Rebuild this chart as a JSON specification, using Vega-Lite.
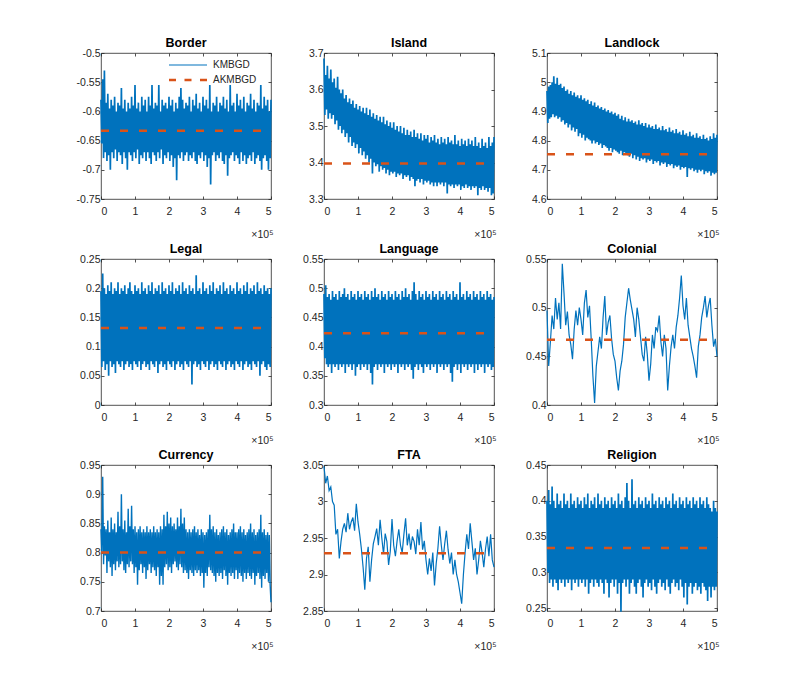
{
  "$schema": "https://vega.github.io/schema/vega-lite/v6.json",
  "background": "white",
  "padding": {"left": 75, "top": 36, "right": 10, "bottom": 10},
  "bounds": "flush",
  "columns": 3,
  "spacing": {"row": 60, "column": 53},
  "resolve": {"scale": {"color": "independent"}, "legend": {"color": "independent"}},
  "datasets": {
    "border": [
      {"x":0,"y":-0.58},{"x":2.5,"y":-0.655},{"x":5,"y":-0.545},{"x":7.5,"y":-0.68},{"x":10,"y":-0.53},{"x":12.5,"y":-0.67},{"x":15,"y":-0.585},{"x":17.5,"y":-0.685},{"x":20,"y":-0.57},{"x":22.5,"y":-0.675},
      {"x":25,"y":-0.595},{"x":27.5,"y":-0.70},{"x":30,"y":-0.58},{"x":32.5,"y":-0.67},{"x":35,"y":-0.59},{"x":37.5,"y":-0.68},{"x":40,"y":-0.575},{"x":42.5,"y":-0.665},{"x":45,"y":-0.60},{"x":47.5,"y":-0.685},
      {"x":50,"y":-0.585},{"x":52.5,"y":-0.67},{"x":55,"y":-0.59},{"x":57.5,"y":-0.675},{"x":60,"y":-0.56},{"x":62.5,"y":-0.69},{"x":65,"y":-0.595},{"x":67.5,"y":-0.67},{"x":70,"y":-0.58},{"x":72.5,"y":-0.68},
      {"x":75,"y":-0.60},{"x":77.5,"y":-0.70},{"x":80,"y":-0.585},{"x":82.5,"y":-0.67},{"x":85,"y":-0.595},{"x":87.5,"y":-0.675},{"x":90,"y":-0.575},{"x":92.5,"y":-0.685},{"x":95,"y":-0.59},{"x":97.5,"y":-0.67},
      {"x":100,"y":-0.555},{"x":102.5,"y":-0.68},{"x":105,"y":-0.595},{"x":107.5,"y":-0.665},{"x":110,"y":-0.585},{"x":112.5,"y":-0.69},{"x":115,"y":-0.60},{"x":117.5,"y":-0.675},{"x":120,"y":-0.575},{"x":122.5,"y":-0.68},
      {"x":125,"y":-0.59},{"x":127.5,"y":-0.67},{"x":130,"y":-0.58},{"x":132.5,"y":-0.685},{"x":135,"y":-0.60},{"x":137.5,"y":-0.67},{"x":140,"y":-0.575},{"x":142.5,"y":-0.68},{"x":145,"y":-0.59},{"x":147.5,"y":-0.69},
      {"x":150,"y":-0.555},{"x":152.5,"y":-0.67},{"x":155,"y":-0.595},{"x":157.5,"y":-0.675},{"x":160,"y":-0.585},{"x":162.5,"y":-0.685},{"x":165,"y":-0.59},{"x":167.5,"y":-0.67},{"x":170,"y":-0.555},{"x":172.5,"y":-0.68},
      {"x":175,"y":-0.60},{"x":177.5,"y":-0.665},{"x":180,"y":-0.58},{"x":182.5,"y":-0.69},{"x":185,"y":-0.59},{"x":187.5,"y":-0.675},{"x":190,"y":-0.585},{"x":192.5,"y":-0.68},{"x":195,"y":-0.595},{"x":197.5,"y":-0.67},
      {"x":200,"y":-0.575},{"x":202.5,"y":-0.685},{"x":205,"y":-0.59},{"x":207.5,"y":-0.675},{"x":210,"y":-0.58},{"x":212.5,"y":-0.695},{"x":215,"y":-0.60},{"x":217.5,"y":-0.68},{"x":220,"y":-0.585},{"x":222.5,"y":-0.718},
      {"x":225,"y":-0.595},{"x":227.5,"y":-0.675},{"x":230,"y":-0.575},{"x":232.5,"y":-0.68},{"x":235,"y":-0.56},{"x":237.5,"y":-0.67},{"x":240,"y":-0.58},{"x":242.5,"y":-0.685},{"x":245,"y":-0.595},{"x":247.5,"y":-0.675},
      {"x":250,"y":-0.585},{"x":252.5,"y":-0.67},{"x":255,"y":-0.59},{"x":257.5,"y":-0.685},{"x":260,"y":-0.575},{"x":262.5,"y":-0.675},{"x":265,"y":-0.60},{"x":267.5,"y":-0.68},{"x":270,"y":-0.58},{"x":272.5,"y":-0.67},
      {"x":275,"y":-0.59},{"x":277.5,"y":-0.685},{"x":280,"y":-0.57},{"x":282.5,"y":-0.69},{"x":285,"y":-0.595},{"x":287.5,"y":-0.675},{"x":290,"y":-0.585},{"x":292.5,"y":-0.68},{"x":295,"y":-0.60},{"x":297.5,"y":-0.67},
      {"x":300,"y":-0.575},{"x":302.5,"y":-0.685},{"x":305,"y":-0.59},{"x":307.5,"y":-0.675},{"x":310,"y":-0.58},{"x":312.5,"y":-0.695},{"x":315,"y":-0.595},{"x":317.5,"y":-0.68},{"x":320,"y":-0.555},{"x":322.5,"y":-0.725},
      {"x":325,"y":-0.60},{"x":327.5,"y":-0.675},{"x":330,"y":-0.585},{"x":332.5,"y":-0.67},{"x":335,"y":-0.59},{"x":337.5,"y":-0.685},{"x":340,"y":-0.575},{"x":342.5,"y":-0.675},{"x":345,"y":-0.60},{"x":347.5,"y":-0.68},
      {"x":350,"y":-0.585},{"x":352.5,"y":-0.67},{"x":355,"y":-0.59},{"x":357.5,"y":-0.685},{"x":360,"y":-0.575},{"x":362.5,"y":-0.69},{"x":365,"y":-0.595},{"x":367.5,"y":-0.675},{"x":370,"y":-0.58},{"x":372.5,"y":-0.71},
      {"x":375,"y":-0.60},{"x":377.5,"y":-0.68},{"x":380,"y":-0.555},{"x":382.5,"y":-0.675},{"x":385,"y":-0.59},{"x":387.5,"y":-0.67},{"x":390,"y":-0.585},{"x":392.5,"y":-0.685},{"x":395,"y":-0.60},{"x":397.5,"y":-0.675},
      {"x":400,"y":-0.57},{"x":402.5,"y":-0.68},{"x":405,"y":-0.59},{"x":407.5,"y":-0.69},{"x":410,"y":-0.58},{"x":412.5,"y":-0.67},{"x":415,"y":-0.595},{"x":417.5,"y":-0.685},{"x":420,"y":-0.575},{"x":422.5,"y":-0.675},
      {"x":425,"y":-0.60},{"x":427.5,"y":-0.69},{"x":430,"y":-0.585},{"x":432.5,"y":-0.68},{"x":435,"y":-0.59},{"x":437.5,"y":-0.675},{"x":440,"y":-0.57},{"x":442.5,"y":-0.685},{"x":445,"y":-0.595},{"x":447.5,"y":-0.67},
      {"x":450,"y":-0.58},{"x":452.5,"y":-0.69},{"x":455,"y":-0.60},{"x":457.5,"y":-0.68},{"x":460,"y":-0.585},{"x":462.5,"y":-0.675},{"x":465,"y":-0.59},{"x":467.5,"y":-0.685},{"x":470,"y":-0.555},{"x":472.5,"y":-0.70},
      {"x":475,"y":-0.595},{"x":477.5,"y":-0.68},{"x":480,"y":-0.575},{"x":482.5,"y":-0.675},{"x":485,"y":-0.59},{"x":487.5,"y":-0.685},{"x":490,"y":-0.58},{"x":492.5,"y":-0.70},{"x":495,"y":-0.60},{"x":497.5,"y":-0.68},
      {"x":500,"y":-0.58}
    ],
    "island": [
      {"x":0,"y":3.685},{"x":2.5,"y":3.53},{"x":5,"y":3.64},{"x":7.5,"y":3.545},{"x":10,"y":3.665},{"x":12.5,"y":3.52},{"x":15,"y":3.63},{"x":17.5,"y":3.535},{"x":20,"y":3.655},{"x":22.5,"y":3.52},
      {"x":25,"y":3.62},{"x":27.5,"y":3.53},{"x":30,"y":3.63},{"x":32.5,"y":3.505},{"x":35,"y":3.605},{"x":37.5,"y":3.515},{"x":40,"y":3.635},{"x":42.5,"y":3.49},{"x":45,"y":3.60},{"x":47.5,"y":3.50},
      {"x":50,"y":3.59},{"x":52.5,"y":3.48},{"x":55,"y":3.60},{"x":57.5,"y":3.49},{"x":60,"y":3.575},{"x":62.5,"y":3.47},{"x":65,"y":3.585},{"x":67.5,"y":3.48},{"x":70,"y":3.565},{"x":72.5,"y":3.455},
      {"x":75,"y":3.575},{"x":77.5,"y":3.47},{"x":80,"y":3.56},{"x":82.5,"y":3.445},{"x":85,"y":3.57},{"x":87.5,"y":3.455},{"x":90,"y":3.55},{"x":92.5,"y":3.44},{"x":95,"y":3.56},{"x":97.5,"y":3.45},
      {"x":100,"y":3.545},{"x":102.5,"y":3.425},{"x":105,"y":3.555},{"x":107.5,"y":3.44},{"x":110,"y":3.54},{"x":112.5,"y":3.42},{"x":115,"y":3.55},{"x":117.5,"y":3.43},{"x":120,"y":3.535},{"x":122.5,"y":3.41},
      {"x":125,"y":3.55},{"x":127.5,"y":3.42},{"x":130,"y":3.53},{"x":132.5,"y":3.40},{"x":135,"y":3.545},{"x":137.5,"y":3.41},{"x":140,"y":3.525},{"x":142.5,"y":3.37},{"x":145,"y":3.535},{"x":147.5,"y":3.40},
      {"x":150,"y":3.52},{"x":152.5,"y":3.39},{"x":155,"y":3.53},{"x":157.5,"y":3.395},{"x":160,"y":3.515},{"x":162.5,"y":3.375},{"x":165,"y":3.525},{"x":167.5,"y":3.39},{"x":170,"y":3.51},{"x":172.5,"y":3.38},
      {"x":175,"y":3.525},{"x":177.5,"y":3.385},{"x":180,"y":3.505},{"x":182.5,"y":3.37},{"x":185,"y":3.515},{"x":187.5,"y":3.38},{"x":190,"y":3.50},{"x":192.5,"y":3.365},{"x":195,"y":3.51},{"x":197.5,"y":3.375},
      {"x":200,"y":3.495},{"x":202.5,"y":3.37},{"x":205,"y":3.51},{"x":207.5,"y":3.375},{"x":210,"y":3.49},{"x":212.5,"y":3.36},{"x":215,"y":3.50},{"x":217.5,"y":3.37},{"x":220,"y":3.485},{"x":222.5,"y":3.365},
      {"x":225,"y":3.50},{"x":227.5,"y":3.37},{"x":230,"y":3.48},{"x":232.5,"y":3.355},{"x":235,"y":3.495},{"x":237.5,"y":3.365},{"x":240,"y":3.475},{"x":242.5,"y":3.36},{"x":245,"y":3.49},{"x":247.5,"y":3.365},
      {"x":250,"y":3.475},{"x":252.5,"y":3.35},{"x":255,"y":3.485},{"x":257.5,"y":3.36},{"x":260,"y":3.47},{"x":262.5,"y":3.355},{"x":265,"y":3.49},{"x":267.5,"y":3.335},{"x":270,"y":3.47},{"x":272.5,"y":3.35},
      {"x":275,"y":3.48},{"x":277.5,"y":3.355},{"x":280,"y":3.465},{"x":282.5,"y":3.345},{"x":285,"y":3.48},{"x":287.5,"y":3.355},{"x":290,"y":3.46},{"x":292.5,"y":3.34},{"x":295,"y":3.475},{"x":297.5,"y":3.35},
      {"x":300,"y":3.465},{"x":302.5,"y":3.345},{"x":305,"y":3.475},{"x":307.5,"y":3.35},{"x":310,"y":3.455},{"x":312.5,"y":3.34},{"x":315,"y":3.47},{"x":317.5,"y":3.345},{"x":320,"y":3.46},{"x":322.5,"y":3.335},
      {"x":325,"y":3.475},{"x":327.5,"y":3.345},{"x":330,"y":3.455},{"x":332.5,"y":3.335},{"x":335,"y":3.465},{"x":337.5,"y":3.345},{"x":340,"y":3.45},{"x":342.5,"y":3.34},{"x":345,"y":3.47},{"x":347.5,"y":3.345},
      {"x":350,"y":3.455},{"x":352.5,"y":3.335},{"x":355,"y":3.465},{"x":357.5,"y":3.345},{"x":360,"y":3.45},{"x":362.5,"y":3.315},{"x":365,"y":3.47},{"x":367.5,"y":3.34},{"x":370,"y":3.455},{"x":372.5,"y":3.335},
      {"x":375,"y":3.46},{"x":377.5,"y":3.34},{"x":380,"y":3.45},{"x":382.5,"y":3.33},{"x":385,"y":3.475},{"x":387.5,"y":3.34},{"x":390,"y":3.45},{"x":392.5,"y":3.335},{"x":395,"y":3.46},{"x":397.5,"y":3.34},
      {"x":400,"y":3.445},{"x":402.5,"y":3.325},{"x":405,"y":3.465},{"x":407.5,"y":3.335},{"x":410,"y":3.45},{"x":412.5,"y":3.33},{"x":415,"y":3.46},{"x":417.5,"y":3.34},{"x":420,"y":3.445},{"x":422.5,"y":3.33},
      {"x":425,"y":3.465},{"x":427.5,"y":3.335},{"x":430,"y":3.45},{"x":432.5,"y":3.325},{"x":435,"y":3.46},{"x":437.5,"y":3.335},{"x":440,"y":3.445},{"x":442.5,"y":3.33},{"x":445,"y":3.47},{"x":447.5,"y":3.335},
      {"x":450,"y":3.445},{"x":452.5,"y":3.31},{"x":455,"y":3.455},{"x":457.5,"y":3.33},{"x":460,"y":3.44},{"x":462.5,"y":3.325},{"x":465,"y":3.465},{"x":467.5,"y":3.335},{"x":470,"y":3.445},{"x":472.5,"y":3.325},
      {"x":475,"y":3.455},{"x":477.5,"y":3.33},{"x":480,"y":3.44},{"x":482.5,"y":3.32},{"x":485,"y":3.47},{"x":487.5,"y":3.33},{"x":490,"y":3.445},{"x":492.5,"y":3.31},{"x":495,"y":3.455},{"x":497.5,"y":3.315},
      {"x":500,"y":3.47}
    ],
    "landlock": [
      {"x":0,"y":4.97},{"x":2.5,"y":4.86},{"x":5,"y":4.985},{"x":7.5,"y":4.875},{"x":10,"y":4.99},{"x":12.5,"y":4.88},{"x":15,"y":5.0},{"x":17.5,"y":4.89},{"x":20,"y":5.02},{"x":22.5,"y":4.88},
      {"x":25,"y":4.995},{"x":27.5,"y":4.885},{"x":30,"y":5.015},{"x":32.5,"y":4.875},{"x":35,"y":4.99},{"x":37.5,"y":4.88},{"x":40,"y":4.995},{"x":42.5,"y":4.865},{"x":45,"y":4.98},{"x":47.5,"y":4.87},
      {"x":50,"y":4.985},{"x":52.5,"y":4.855},{"x":55,"y":4.97},{"x":57.5,"y":4.86},{"x":60,"y":4.975},{"x":62.5,"y":4.845},{"x":65,"y":4.96},{"x":67.5,"y":4.855},{"x":70,"y":4.97},{"x":72.5,"y":4.835},
      {"x":75,"y":4.955},{"x":77.5,"y":4.845},{"x":80,"y":4.965},{"x":82.5,"y":4.83},{"x":85,"y":4.95},{"x":87.5,"y":4.84},{"x":90,"y":4.955},{"x":92.5,"y":4.815},{"x":95,"y":4.945},{"x":97.5,"y":4.825},
      {"x":100,"y":4.955},{"x":102.5,"y":4.81},{"x":105,"y":4.94},{"x":107.5,"y":4.82},{"x":110,"y":4.945},{"x":112.5,"y":4.80},{"x":115,"y":4.935},{"x":117.5,"y":4.81},{"x":120,"y":4.94},{"x":122.5,"y":4.805},
      {"x":125,"y":4.925},{"x":127.5,"y":4.80},{"x":130,"y":4.935},{"x":132.5,"y":4.79},{"x":135,"y":4.92},{"x":137.5,"y":4.80},{"x":140,"y":4.93},{"x":142.5,"y":4.79},{"x":145,"y":4.915},{"x":147.5,"y":4.795},
      {"x":150,"y":4.92},{"x":152.5,"y":4.785},{"x":155,"y":4.91},{"x":157.5,"y":4.79},{"x":160,"y":4.915},{"x":162.5,"y":4.775},{"x":165,"y":4.905},{"x":167.5,"y":4.785},{"x":170,"y":4.91},{"x":172.5,"y":4.78},
      {"x":175,"y":4.90},{"x":177.5,"y":4.775},{"x":180,"y":4.905},{"x":182.5,"y":4.765},{"x":185,"y":4.895},{"x":187.5,"y":4.775},{"x":190,"y":4.90},{"x":192.5,"y":4.76},{"x":195,"y":4.89},{"x":197.5,"y":4.77},
      {"x":200,"y":4.895},{"x":202.5,"y":4.765},{"x":205,"y":4.885},{"x":207.5,"y":4.76},{"x":210,"y":4.89},{"x":212.5,"y":4.755},{"x":215,"y":4.875},{"x":217.5,"y":4.765},{"x":220,"y":4.885},{"x":222.5,"y":4.75},
      {"x":225,"y":4.87},{"x":227.5,"y":4.76},{"x":230,"y":4.88},{"x":232.5,"y":4.755},{"x":235,"y":4.865},{"x":237.5,"y":4.75},{"x":240,"y":4.875},{"x":242.5,"y":4.745},{"x":245,"y":4.865},{"x":247.5,"y":4.755},
      {"x":250,"y":4.87},{"x":252.5,"y":4.74},{"x":255,"y":4.86},{"x":257.5,"y":4.75},{"x":260,"y":4.865},{"x":262.5,"y":4.735},{"x":265,"y":4.855},{"x":267.5,"y":4.745},{"x":270,"y":4.87},{"x":272.5,"y":4.73},
      {"x":275,"y":4.855},{"x":277.5,"y":4.74},{"x":280,"y":4.86},{"x":282.5,"y":4.735},{"x":285,"y":4.85},{"x":287.5,"y":4.74},{"x":290,"y":4.86},{"x":292.5,"y":4.725},{"x":295,"y":4.845},{"x":297.5,"y":4.735},
      {"x":300,"y":4.855},{"x":302.5,"y":4.73},{"x":305,"y":4.845},{"x":307.5,"y":4.735},{"x":310,"y":4.85},{"x":312.5,"y":4.72},{"x":315,"y":4.84},{"x":317.5,"y":4.73},{"x":320,"y":4.855},{"x":322.5,"y":4.725},
      {"x":325,"y":4.84},{"x":327.5,"y":4.73},{"x":330,"y":4.845},{"x":332.5,"y":4.715},{"x":335,"y":4.835},{"x":337.5,"y":4.725},{"x":340,"y":4.85},{"x":342.5,"y":4.72},{"x":345,"y":4.835},{"x":347.5,"y":4.725},
      {"x":350,"y":4.84},{"x":352.5,"y":4.71},{"x":355,"y":4.83},{"x":357.5,"y":4.72},{"x":360,"y":4.845},{"x":362.5,"y":4.715},{"x":365,"y":4.83},{"x":367.5,"y":4.72},{"x":370,"y":4.835},{"x":372.5,"y":4.705},
      {"x":375,"y":4.825},{"x":377.5,"y":4.715},{"x":380,"y":4.84},{"x":382.5,"y":4.71},{"x":385,"y":4.825},{"x":387.5,"y":4.715},{"x":390,"y":4.83},{"x":392.5,"y":4.70},{"x":395,"y":4.82},{"x":397.5,"y":4.71},
      {"x":400,"y":4.835},{"x":402.5,"y":4.705},{"x":405,"y":4.82},{"x":407.5,"y":4.71},{"x":410,"y":4.825},{"x":412.5,"y":4.675},{"x":415,"y":4.815},{"x":417.5,"y":4.705},{"x":420,"y":4.83},{"x":422.5,"y":4.70},
      {"x":425,"y":4.815},{"x":427.5,"y":4.705},{"x":430,"y":4.82},{"x":432.5,"y":4.695},{"x":435,"y":4.81},{"x":437.5,"y":4.70},{"x":440,"y":4.825},{"x":442.5,"y":4.69},{"x":445,"y":4.81},{"x":447.5,"y":4.70},
      {"x":450,"y":4.815},{"x":452.5,"y":4.695},{"x":455,"y":4.805},{"x":457.5,"y":4.70},{"x":460,"y":4.82},{"x":462.5,"y":4.685},{"x":465,"y":4.805},{"x":467.5,"y":4.695},{"x":470,"y":4.81},{"x":472.5,"y":4.69},
      {"x":475,"y":4.80},{"x":477.5,"y":4.695},{"x":480,"y":4.815},{"x":482.5,"y":4.68},{"x":485,"y":4.805},{"x":487.5,"y":4.69},{"x":490,"y":4.825},{"x":492.5,"y":4.685},{"x":495,"y":4.81},{"x":497.5,"y":4.69},
      {"x":500,"y":4.82}
    ],
    "legal": [
      {"x":0,"y":0.195},{"x":2.5,"y":0.065},{"x":5,"y":0.225},{"x":7.5,"y":0.075},{"x":10,"y":0.20},{"x":12.5,"y":0.06},{"x":15,"y":0.19},{"x":17.5,"y":0.07},{"x":20,"y":0.205},{"x":22.5,"y":0.05},
      {"x":25,"y":0.195},{"x":27.5,"y":0.075},{"x":30,"y":0.21},{"x":32.5,"y":0.065},{"x":35,"y":0.19},{"x":37.5,"y":0.07},{"x":40,"y":0.20},{"x":42.5,"y":0.055},{"x":45,"y":0.195},{"x":47.5,"y":0.075},
      {"x":50,"y":0.21},{"x":52.5,"y":0.07},{"x":55,"y":0.19},{"x":57.5,"y":0.065},{"x":60,"y":0.20},{"x":62.5,"y":0.075},{"x":65,"y":0.195},{"x":67.5,"y":0.06},{"x":70,"y":0.205},{"x":72.5,"y":0.07},
      {"x":75,"y":0.19},{"x":77.5,"y":0.075},{"x":80,"y":0.20},{"x":82.5,"y":0.065},{"x":85,"y":0.21},{"x":87.5,"y":0.07},{"x":90,"y":0.195},{"x":92.5,"y":0.06},{"x":95,"y":0.19},{"x":97.5,"y":0.075},
      {"x":100,"y":0.205},{"x":102.5,"y":0.07},{"x":105,"y":0.195},{"x":107.5,"y":0.065},{"x":110,"y":0.20},{"x":112.5,"y":0.075},{"x":115,"y":0.19},{"x":117.5,"y":0.06},{"x":120,"y":0.21},{"x":122.5,"y":0.07},
      {"x":125,"y":0.195},{"x":127.5,"y":0.075},{"x":130,"y":0.20},{"x":132.5,"y":0.065},{"x":135,"y":0.19},{"x":137.5,"y":0.07},{"x":140,"y":0.205},{"x":142.5,"y":0.06},{"x":145,"y":0.195},{"x":147.5,"y":0.075},
      {"x":150,"y":0.21},{"x":152.5,"y":0.07},{"x":155,"y":0.19},{"x":157.5,"y":0.065},{"x":160,"y":0.20},{"x":162.5,"y":0.075},{"x":165,"y":0.195},{"x":167.5,"y":0.055},{"x":170,"y":0.205},{"x":172.5,"y":0.07},
      {"x":175,"y":0.19},{"x":177.5,"y":0.075},{"x":180,"y":0.21},{"x":182.5,"y":0.065},{"x":185,"y":0.195},{"x":187.5,"y":0.07},{"x":190,"y":0.20},{"x":192.5,"y":0.06},{"x":195,"y":0.19},{"x":197.5,"y":0.075},
      {"x":200,"y":0.205},{"x":202.5,"y":0.07},{"x":205,"y":0.195},{"x":207.5,"y":0.065},{"x":210,"y":0.21},{"x":212.5,"y":0.075},{"x":215,"y":0.19},{"x":217.5,"y":0.06},{"x":220,"y":0.20},{"x":222.5,"y":0.07},
      {"x":225,"y":0.195},{"x":227.5,"y":0.075},{"x":230,"y":0.205},{"x":232.5,"y":0.065},{"x":235,"y":0.19},{"x":237.5,"y":0.07},{"x":240,"y":0.21},{"x":242.5,"y":0.06},{"x":245,"y":0.195},{"x":247.5,"y":0.075},
      {"x":250,"y":0.20},{"x":252.5,"y":0.07},{"x":255,"y":0.19},{"x":257.5,"y":0.065},{"x":260,"y":0.205},{"x":262.5,"y":0.075},{"x":265,"y":0.195},{"x":267.5,"y":0.035},{"x":270,"y":0.20},{"x":272.5,"y":0.07},
      {"x":275,"y":0.19},{"x":277.5,"y":0.075},{"x":280,"y":0.222},{"x":282.5,"y":0.065},{"x":285,"y":0.195},{"x":287.5,"y":0.07},{"x":290,"y":0.20},{"x":292.5,"y":0.06},{"x":295,"y":0.19},{"x":297.5,"y":0.075},
      {"x":300,"y":0.21},{"x":302.5,"y":0.07},{"x":305,"y":0.195},{"x":307.5,"y":0.065},{"x":310,"y":0.20},{"x":312.5,"y":0.075},{"x":315,"y":0.19},{"x":317.5,"y":0.06},{"x":320,"y":0.205},{"x":322.5,"y":0.07},
      {"x":325,"y":0.195},{"x":327.5,"y":0.075},{"x":330,"y":0.21},{"x":332.5,"y":0.065},{"x":335,"y":0.19},{"x":337.5,"y":0.07},{"x":340,"y":0.20},{"x":342.5,"y":0.06},{"x":345,"y":0.195},{"x":347.5,"y":0.075},
      {"x":350,"y":0.205},{"x":352.5,"y":0.07},{"x":355,"y":0.19},{"x":357.5,"y":0.065},{"x":360,"y":0.21},{"x":362.5,"y":0.075},{"x":365,"y":0.195},{"x":367.5,"y":0.06},{"x":370,"y":0.20},{"x":372.5,"y":0.07},
      {"x":375,"y":0.19},{"x":377.5,"y":0.075},{"x":380,"y":0.205},{"x":382.5,"y":0.065},{"x":385,"y":0.195},{"x":387.5,"y":0.07},{"x":390,"y":0.20},{"x":392.5,"y":0.06},{"x":395,"y":0.19},{"x":397.5,"y":0.075},
      {"x":400,"y":0.21},{"x":402.5,"y":0.07},{"x":405,"y":0.195},{"x":407.5,"y":0.065},{"x":410,"y":0.20},{"x":412.5,"y":0.075},{"x":415,"y":0.19},{"x":417.5,"y":0.06},{"x":420,"y":0.205},{"x":422.5,"y":0.07},
      {"x":425,"y":0.195},{"x":427.5,"y":0.075},{"x":430,"y":0.21},{"x":432.5,"y":0.065},{"x":435,"y":0.19},{"x":437.5,"y":0.07},{"x":440,"y":0.20},{"x":442.5,"y":0.06},{"x":445,"y":0.195},{"x":447.5,"y":0.075},
      {"x":450,"y":0.205},{"x":452.5,"y":0.07},{"x":455,"y":0.19},{"x":457.5,"y":0.065},{"x":460,"y":0.21},{"x":462.5,"y":0.075},{"x":465,"y":0.195},{"x":467.5,"y":0.05},{"x":470,"y":0.20},{"x":472.5,"y":0.07},
      {"x":475,"y":0.19},{"x":477.5,"y":0.075},{"x":480,"y":0.205},{"x":482.5,"y":0.065},{"x":485,"y":0.195},{"x":487.5,"y":0.06},{"x":490,"y":0.20},{"x":492.5,"y":0.07},{"x":495,"y":0.19},{"x":497.5,"y":0.065},
      {"x":500,"y":0.20}
    ],
    "language": [
      {"x":0,"y":0.49},{"x":2.5,"y":0.38},{"x":5,"y":0.505},{"x":7.5,"y":0.37},{"x":10,"y":0.485},{"x":12.5,"y":0.365},{"x":15,"y":0.49},{"x":17.5,"y":0.37},{"x":20,"y":0.48},{"x":22.5,"y":0.355},
      {"x":25,"y":0.495},{"x":27.5,"y":0.37},{"x":30,"y":0.485},{"x":32.5,"y":0.365},{"x":35,"y":0.49},{"x":37.5,"y":0.37},{"x":40,"y":0.48},{"x":42.5,"y":0.36},{"x":45,"y":0.495},{"x":47.5,"y":0.37},
      {"x":50,"y":0.485},{"x":52.5,"y":0.365},{"x":55,"y":0.49},{"x":57.5,"y":0.37},{"x":60,"y":0.50},{"x":62.5,"y":0.355},{"x":65,"y":0.485},{"x":67.5,"y":0.37},{"x":70,"y":0.49},{"x":72.5,"y":0.365},
      {"x":75,"y":0.48},{"x":77.5,"y":0.37},{"x":80,"y":0.495},{"x":82.5,"y":0.36},{"x":85,"y":0.485},{"x":87.5,"y":0.37},{"x":90,"y":0.49},{"x":92.5,"y":0.35},{"x":95,"y":0.48},{"x":97.5,"y":0.365},
      {"x":100,"y":0.495},{"x":102.5,"y":0.37},{"x":105,"y":0.485},{"x":107.5,"y":0.36},{"x":110,"y":0.49},{"x":112.5,"y":0.37},{"x":115,"y":0.48},{"x":117.5,"y":0.365},{"x":120,"y":0.495},{"x":122.5,"y":0.37},
      {"x":125,"y":0.485},{"x":127.5,"y":0.36},{"x":130,"y":0.49},{"x":132.5,"y":0.37},{"x":135,"y":0.48},{"x":137.5,"y":0.355},{"x":140,"y":0.495},{"x":142.5,"y":0.335},{"x":145,"y":0.485},{"x":147.5,"y":0.365},
      {"x":150,"y":0.50},{"x":152.5,"y":0.37},{"x":155,"y":0.485},{"x":157.5,"y":0.36},{"x":160,"y":0.49},{"x":162.5,"y":0.37},{"x":165,"y":0.48},{"x":167.5,"y":0.365},{"x":170,"y":0.495},{"x":172.5,"y":0.37},
      {"x":175,"y":0.485},{"x":177.5,"y":0.355},{"x":180,"y":0.49},{"x":182.5,"y":0.37},{"x":185,"y":0.48},{"x":187.5,"y":0.365},{"x":190,"y":0.495},{"x":192.5,"y":0.37},{"x":195,"y":0.485},{"x":197.5,"y":0.36},
      {"x":200,"y":0.49},{"x":202.5,"y":0.37},{"x":205,"y":0.48},{"x":207.5,"y":0.365},{"x":210,"y":0.495},{"x":212.5,"y":0.37},{"x":215,"y":0.485},{"x":217.5,"y":0.355},{"x":220,"y":0.49},{"x":222.5,"y":0.37},
      {"x":225,"y":0.48},{"x":227.5,"y":0.365},{"x":230,"y":0.495},{"x":232.5,"y":0.37},{"x":235,"y":0.485},{"x":237.5,"y":0.36},{"x":240,"y":0.50},{"x":242.5,"y":0.37},{"x":245,"y":0.485},{"x":247.5,"y":0.365},
      {"x":250,"y":0.49},{"x":252.5,"y":0.37},{"x":255,"y":0.48},{"x":257.5,"y":0.36},{"x":260,"y":0.495},{"x":262.5,"y":0.345},{"x":265,"y":0.51},{"x":267.5,"y":0.365},{"x":270,"y":0.49},{"x":272.5,"y":0.37},
      {"x":275,"y":0.48},{"x":277.5,"y":0.36},{"x":280,"y":0.495},{"x":282.5,"y":0.37},{"x":285,"y":0.485},{"x":287.5,"y":0.365},{"x":290,"y":0.49},{"x":292.5,"y":0.355},{"x":295,"y":0.48},{"x":297.5,"y":0.37},
      {"x":300,"y":0.495},{"x":302.5,"y":0.365},{"x":305,"y":0.485},{"x":307.5,"y":0.37},{"x":310,"y":0.49},{"x":312.5,"y":0.36},{"x":315,"y":0.48},{"x":317.5,"y":0.37},{"x":320,"y":0.495},{"x":322.5,"y":0.365},
      {"x":325,"y":0.485},{"x":327.5,"y":0.37},{"x":330,"y":0.49},{"x":332.5,"y":0.355},{"x":335,"y":0.48},{"x":337.5,"y":0.37},{"x":340,"y":0.495},{"x":342.5,"y":0.365},{"x":345,"y":0.485},{"x":347.5,"y":0.37},
      {"x":350,"y":0.49},{"x":352.5,"y":0.36},{"x":355,"y":0.48},{"x":357.5,"y":0.37},{"x":360,"y":0.495},{"x":362.5,"y":0.365},{"x":365,"y":0.485},{"x":367.5,"y":0.37},{"x":370,"y":0.49},{"x":372.5,"y":0.355},
      {"x":375,"y":0.48},{"x":377.5,"y":0.34},{"x":380,"y":0.495},{"x":382.5,"y":0.365},{"x":385,"y":0.485},{"x":387.5,"y":0.37},{"x":390,"y":0.49},{"x":392.5,"y":0.36},{"x":395,"y":0.48},{"x":397.5,"y":0.37},
      {"x":400,"y":0.51},{"x":402.5,"y":0.355},{"x":405,"y":0.485},{"x":407.5,"y":0.37},{"x":410,"y":0.49},{"x":412.5,"y":0.365},{"x":415,"y":0.48},{"x":417.5,"y":0.37},{"x":420,"y":0.495},{"x":422.5,"y":0.36},
      {"x":425,"y":0.485},{"x":427.5,"y":0.37},{"x":430,"y":0.49},{"x":432.5,"y":0.365},{"x":435,"y":0.48},{"x":437.5,"y":0.37},{"x":440,"y":0.495},{"x":442.5,"y":0.355},{"x":445,"y":0.485},{"x":447.5,"y":0.37},
      {"x":450,"y":0.49},{"x":452.5,"y":0.36},{"x":455,"y":0.48},{"x":457.5,"y":0.37},{"x":460,"y":0.495},{"x":462.5,"y":0.365},{"x":465,"y":0.485},{"x":467.5,"y":0.37},{"x":470,"y":0.49},{"x":472.5,"y":0.355},
      {"x":475,"y":0.48},{"x":477.5,"y":0.37},{"x":480,"y":0.495},{"x":482.5,"y":0.365},{"x":485,"y":0.485},{"x":487.5,"y":0.37},{"x":490,"y":0.49},{"x":492.5,"y":0.36},{"x":495,"y":0.48},{"x":497.5,"y":0.365},
      {"x":500,"y":0.485}
    ],
    "colonial": [
      {"x":0,"y":0.497},{"x":5,"y":0.44},{"x":10,"y":0.465},{"x":15,"y":0.492},{"x":20,"y":0.478},{"x":25,"y":0.51},{"x":30,"y":0.488},{"x":35,"y":0.505},{"x":40,"y":0.478},{"x":45,"y":0.545},
      {"x":50,"y":0.515},{"x":55,"y":0.482},{"x":60,"y":0.496},{"x":65,"y":0.472},{"x":70,"y":0.462},{"x":75,"y":0.447},{"x":80,"y":0.478},{"x":85,"y":0.497},{"x":90,"y":0.482},{"x":95,"y":0.50},
      {"x":100,"y":0.488},{"x":105,"y":0.472},{"x":110,"y":0.505},{"x":115,"y":0.518},{"x":120,"y":0.49},{"x":125,"y":0.502},{"x":130,"y":0.468},{"x":135,"y":0.43},{"x":140,"y":0.402},{"x":145,"y":0.44},
      {"x":150,"y":0.455},{"x":155,"y":0.47},{"x":160,"y":0.458},{"x":165,"y":0.49},{"x":170,"y":0.512},{"x":175,"y":0.472},{"x":180,"y":0.485},{"x":185,"y":0.492},{"x":190,"y":0.468},{"x":195,"y":0.452},
      {"x":200,"y":0.445},{"x":205,"y":0.428},{"x":210,"y":0.415},{"x":215,"y":0.435},{"x":220,"y":0.445},{"x":225,"y":0.462},{"x":230,"y":0.49},{"x":235,"y":0.505},{"x":240,"y":0.52},{"x":245,"y":0.508},
      {"x":250,"y":0.498},{"x":255,"y":0.488},{"x":260,"y":0.47},{"x":265,"y":0.50},{"x":270,"y":0.488},{"x":275,"y":0.47},{"x":280,"y":0.452},{"x":285,"y":0.445},{"x":290,"y":0.47},{"x":295,"y":0.452},
      {"x":300,"y":0.425},{"x":305,"y":0.442},{"x":310,"y":0.472},{"x":315,"y":0.458},{"x":320,"y":0.48},{"x":325,"y":0.476},{"x":330,"y":0.492},{"x":335,"y":0.465},{"x":340,"y":0.45},{"x":345,"y":0.472},
      {"x":350,"y":0.458},{"x":355,"y":0.415},{"x":360,"y":0.44},{"x":365,"y":0.46},{"x":370,"y":0.472},{"x":375,"y":0.458},{"x":380,"y":0.48},{"x":385,"y":0.492},{"x":390,"y":0.51},{"x":395,"y":0.533},
      {"x":400,"y":0.502},{"x":405,"y":0.488},{"x":410,"y":0.51},{"x":415,"y":0.482},{"x":420,"y":0.47},{"x":425,"y":0.458},{"x":430,"y":0.45},{"x":435,"y":0.44},{"x":440,"y":0.428},{"x":445,"y":0.46},
      {"x":450,"y":0.472},{"x":455,"y":0.49},{"x":460,"y":0.50},{"x":465,"y":0.512},{"x":470,"y":0.49},{"x":475,"y":0.502},{"x":480,"y":0.51},{"x":485,"y":0.482},{"x":490,"y":0.46},{"x":495,"y":0.468},
      {"x":500,"y":0.45}
    ],
    "currency": [
      {"x":0,"y":0.84},{"x":2.5,"y":0.80},{"x":5,"y":0.93},{"x":7.5,"y":0.78},{"x":10,"y":0.845},{"x":12.5,"y":0.795},{"x":15,"y":0.84},{"x":17.5,"y":0.765},{"x":20,"y":0.855},{"x":22.5,"y":0.785},
      {"x":25,"y":0.835},{"x":27.5,"y":0.775},{"x":30,"y":0.86},{"x":32.5,"y":0.76},{"x":35,"y":0.84},{"x":37.5,"y":0.78},{"x":40,"y":0.85},{"x":42.5,"y":0.77},{"x":45,"y":0.835},{"x":47.5,"y":0.785},
      {"x":50,"y":0.87},{"x":52.5,"y":0.775},{"x":55,"y":0.845},{"x":57.5,"y":0.78},{"x":60,"y":0.90},{"x":62.5,"y":0.785},{"x":65,"y":0.84},{"x":67.5,"y":0.77},{"x":70,"y":0.855},{"x":72.5,"y":0.765},
      {"x":75,"y":0.835},{"x":77.5,"y":0.78},{"x":80,"y":0.875},{"x":82.5,"y":0.775},{"x":85,"y":0.845},{"x":87.5,"y":0.785},{"x":90,"y":0.88},{"x":92.5,"y":0.78},{"x":95,"y":0.84},{"x":97.5,"y":0.765},
      {"x":100,"y":0.845},{"x":102.5,"y":0.775},{"x":105,"y":0.835},{"x":107.5,"y":0.745},{"x":110,"y":0.84},{"x":112.5,"y":0.77},{"x":115,"y":0.845},{"x":117.5,"y":0.78},{"x":120,"y":0.835},{"x":122.5,"y":0.765},
      {"x":125,"y":0.84},{"x":127.5,"y":0.775},{"x":130,"y":0.835},{"x":132.5,"y":0.755},{"x":135,"y":0.845},{"x":137.5,"y":0.77},{"x":140,"y":0.835},{"x":142.5,"y":0.78},{"x":145,"y":0.84},{"x":147.5,"y":0.765},
      {"x":150,"y":0.835},{"x":152.5,"y":0.775},{"x":155,"y":0.845},{"x":157.5,"y":0.77},{"x":160,"y":0.835},{"x":162.5,"y":0.76},{"x":165,"y":0.84},{"x":167.5,"y":0.775},{"x":170,"y":0.835},{"x":172.5,"y":0.745},
      {"x":175,"y":0.845},{"x":177.5,"y":0.76},{"x":180,"y":0.84},{"x":182.5,"y":0.745},{"x":185,"y":0.865},{"x":187.5,"y":0.775},{"x":190,"y":0.845},{"x":192.5,"y":0.78},{"x":195,"y":0.87},{"x":197.5,"y":0.77},
      {"x":200,"y":0.85},{"x":202.5,"y":0.775},{"x":205,"y":0.86},{"x":207.5,"y":0.765},{"x":210,"y":0.845},{"x":212.5,"y":0.78},{"x":215,"y":0.85},{"x":217.5,"y":0.785},{"x":220,"y":0.84},{"x":222.5,"y":0.775},
      {"x":225,"y":0.86},{"x":227.5,"y":0.77},{"x":230,"y":0.845},{"x":232.5,"y":0.78},{"x":235,"y":0.875},{"x":237.5,"y":0.775},{"x":240,"y":0.85},{"x":242.5,"y":0.765},{"x":245,"y":0.86},{"x":247.5,"y":0.77},
      {"x":250,"y":0.84},{"x":252.5,"y":0.765},{"x":255,"y":0.835},{"x":257.5,"y":0.755},{"x":260,"y":0.84},{"x":262.5,"y":0.77},{"x":265,"y":0.835},{"x":267.5,"y":0.765},{"x":270,"y":0.84},{"x":272.5,"y":0.76},
      {"x":275,"y":0.845},{"x":277.5,"y":0.77},{"x":280,"y":0.835},{"x":282.5,"y":0.765},{"x":285,"y":0.84},{"x":287.5,"y":0.77},{"x":290,"y":0.83},{"x":292.5,"y":0.76},{"x":295,"y":0.84},{"x":297.5,"y":0.765},
      {"x":300,"y":0.835},{"x":302.5,"y":0.74},{"x":305,"y":0.83},{"x":307.5,"y":0.765},{"x":310,"y":0.835},{"x":312.5,"y":0.76},{"x":315,"y":0.84},{"x":317.5,"y":0.775},{"x":320,"y":0.865},{"x":322.5,"y":0.77},
      {"x":325,"y":0.84},{"x":327.5,"y":0.765},{"x":330,"y":0.845},{"x":332.5,"y":0.76},{"x":335,"y":0.835},{"x":337.5,"y":0.75},{"x":340,"y":0.84},{"x":342.5,"y":0.765},{"x":345,"y":0.83},{"x":347.5,"y":0.76},
      {"x":350,"y":0.835},{"x":352.5,"y":0.765},{"x":355,"y":0.84},{"x":357.5,"y":0.755},{"x":360,"y":0.845},{"x":362.5,"y":0.77},{"x":365,"y":0.835},{"x":367.5,"y":0.76},{"x":370,"y":0.84},{"x":372.5,"y":0.745},
      {"x":375,"y":0.83},{"x":377.5,"y":0.765},{"x":380,"y":0.835},{"x":382.5,"y":0.76},{"x":385,"y":0.84},{"x":387.5,"y":0.765},{"x":390,"y":0.85},{"x":392.5,"y":0.755},{"x":395,"y":0.835},{"x":397.5,"y":0.77},
      {"x":400,"y":0.835},{"x":402.5,"y":0.755},{"x":405,"y":0.84},{"x":407.5,"y":0.765},{"x":410,"y":0.845},{"x":412.5,"y":0.76},{"x":415,"y":0.835},{"x":417.5,"y":0.75},{"x":420,"y":0.84},{"x":422.5,"y":0.765},
      {"x":425,"y":0.83},{"x":427.5,"y":0.755},{"x":430,"y":0.835},{"x":432.5,"y":0.765},{"x":435,"y":0.84},{"x":437.5,"y":0.76},{"x":440,"y":0.85},{"x":442.5,"y":0.755},{"x":445,"y":0.835},{"x":447.5,"y":0.765},
      {"x":450,"y":0.84},{"x":452.5,"y":0.745},{"x":455,"y":0.83},{"x":457.5,"y":0.76},{"x":460,"y":0.835},{"x":462.5,"y":0.765},{"x":465,"y":0.84},{"x":467.5,"y":0.755},{"x":470,"y":0.865},{"x":472.5,"y":0.74},
      {"x":475,"y":0.835},{"x":477.5,"y":0.76},{"x":480,"y":0.84},{"x":482.5,"y":0.755},{"x":485,"y":0.83},{"x":487.5,"y":0.765},{"x":490,"y":0.835},{"x":492.5,"y":0.75},{"x":495,"y":0.83},{"x":497.5,"y":0.745},
      {"x":500,"y":0.715}
    ],
    "fta": [
      {"x":0,"y":3.048},{"x":5,"y":3.025},{"x":10,"y":3.035},{"x":15,"y":3.015},{"x":20,"y":3.02},{"x":25,"y":3.0},{"x":30,"y":2.995},{"x":35,"y":2.955},{"x":40,"y":2.962},{"x":45,"y":2.922},
      {"x":50,"y":2.945},{"x":55,"y":2.962},{"x":60,"y":2.97},{"x":65,"y":2.958},{"x":70,"y":2.984},{"x":75,"y":2.962},{"x":80,"y":2.972},{"x":85,"y":2.978},{"x":90,"y":2.96},{"x":95,"y":2.997},
      {"x":100,"y":2.972},{"x":105,"y":2.955},{"x":110,"y":2.935},{"x":115,"y":2.91},{"x":120,"y":2.879},{"x":125,"y":2.922},{"x":130,"y":2.938},{"x":135,"y":2.89},{"x":140,"y":2.92},{"x":145,"y":2.942},
      {"x":150,"y":2.952},{"x":155,"y":2.963},{"x":160,"y":2.94},{"x":165,"y":2.975},{"x":170,"y":2.95},{"x":175,"y":2.928},{"x":180,"y":2.956},{"x":185,"y":2.945},{"x":190,"y":2.913},{"x":195,"y":2.932},
      {"x":200,"y":2.976},{"x":205,"y":2.94},{"x":210,"y":2.925},{"x":215,"y":2.946},{"x":220,"y":2.962},{"x":225,"y":2.94},{"x":230,"y":2.93},{"x":235,"y":2.955},{"x":240,"y":2.977},{"x":245,"y":2.94},
      {"x":250,"y":2.956},{"x":255,"y":2.934},{"x":260,"y":2.952},{"x":265,"y":2.945},{"x":270,"y":2.928},{"x":275,"y":2.962},{"x":280,"y":2.94},{"x":285,"y":2.972},{"x":290,"y":2.934},{"x":295,"y":2.946},
      {"x":300,"y":2.92},{"x":305,"y":2.90},{"x":310,"y":2.922},{"x":315,"y":2.905},{"x":320,"y":2.93},{"x":325,"y":2.885},{"x":330,"y":2.915},{"x":335,"y":2.936},{"x":340,"y":2.966},{"x":345,"y":2.94},
      {"x":350,"y":2.92},{"x":355,"y":2.942},{"x":360,"y":2.96},{"x":365,"y":2.934},{"x":370,"y":2.915},{"x":375,"y":2.93},{"x":380,"y":2.90},{"x":385,"y":2.92},{"x":390,"y":2.90},{"x":395,"y":2.89},
      {"x":400,"y":2.875},{"x":405,"y":2.86},{"x":410,"y":2.90},{"x":415,"y":2.93},{"x":420,"y":2.955},{"x":425,"y":2.935},{"x":430,"y":2.97},{"x":435,"y":2.945},{"x":440,"y":2.92},{"x":445,"y":2.936},
      {"x":450,"y":2.90},{"x":455,"y":2.92},{"x":460,"y":2.946},{"x":465,"y":2.93},{"x":470,"y":2.91},{"x":475,"y":2.935},{"x":480,"y":2.952},{"x":485,"y":2.925},{"x":490,"y":2.955},{"x":495,"y":2.92},
      {"x":500,"y":2.91}
    ],
    "religion": [
      {"x":0,"y":0.40},{"x":2.5,"y":0.30},{"x":5,"y":0.415},{"x":7.5,"y":0.285},{"x":10,"y":0.395},{"x":12.5,"y":0.29},{"x":15,"y":0.42},{"x":17.5,"y":0.28},{"x":20,"y":0.40},{"x":22.5,"y":0.29},
      {"x":25,"y":0.39},{"x":27.5,"y":0.285},{"x":30,"y":0.41},{"x":32.5,"y":0.275},{"x":35,"y":0.395},{"x":37.5,"y":0.29},{"x":40,"y":0.40},{"x":42.5,"y":0.285},{"x":45,"y":0.39},{"x":47.5,"y":0.29},
      {"x":50,"y":0.41},{"x":52.5,"y":0.28},{"x":55,"y":0.395},{"x":57.5,"y":0.29},{"x":60,"y":0.40},{"x":62.5,"y":0.285},{"x":65,"y":0.39},{"x":67.5,"y":0.29},{"x":70,"y":0.41},{"x":72.5,"y":0.275},
      {"x":75,"y":0.395},{"x":77.5,"y":0.29},{"x":80,"y":0.40},{"x":82.5,"y":0.285},{"x":85,"y":0.39},{"x":87.5,"y":0.29},{"x":90,"y":0.405},{"x":92.5,"y":0.28},{"x":95,"y":0.395},{"x":97.5,"y":0.29},
      {"x":100,"y":0.40},{"x":102.5,"y":0.285},{"x":105,"y":0.39},{"x":107.5,"y":0.29},{"x":110,"y":0.405},{"x":112.5,"y":0.28},{"x":115,"y":0.395},{"x":117.5,"y":0.29},{"x":120,"y":0.41},{"x":122.5,"y":0.27},
      {"x":125,"y":0.39},{"x":127.5,"y":0.285},{"x":130,"y":0.40},{"x":132.5,"y":0.29},{"x":135,"y":0.395},{"x":137.5,"y":0.28},{"x":140,"y":0.405},{"x":142.5,"y":0.29},{"x":145,"y":0.39},{"x":147.5,"y":0.285},
      {"x":150,"y":0.41},{"x":152.5,"y":0.28},{"x":155,"y":0.395},{"x":157.5,"y":0.29},{"x":160,"y":0.40},{"x":162.5,"y":0.285},{"x":165,"y":0.39},{"x":167.5,"y":0.27},{"x":170,"y":0.405},{"x":172.5,"y":0.29},
      {"x":175,"y":0.395},{"x":177.5,"y":0.285},{"x":180,"y":0.40},{"x":182.5,"y":0.265},{"x":185,"y":0.39},{"x":187.5,"y":0.285},{"x":190,"y":0.405},{"x":192.5,"y":0.29},{"x":195,"y":0.395},{"x":197.5,"y":0.28},
      {"x":200,"y":0.40},{"x":202.5,"y":0.29},{"x":205,"y":0.39},{"x":207.5,"y":0.27},{"x":210,"y":0.41},{"x":212.5,"y":0.285},{"x":215,"y":0.395},{"x":217.5,"y":0.245},{"x":220,"y":0.40},{"x":222.5,"y":0.285},
      {"x":225,"y":0.39},{"x":227.5,"y":0.29},{"x":230,"y":0.405},{"x":232.5,"y":0.28},{"x":235,"y":0.425},{"x":237.5,"y":0.29},{"x":240,"y":0.40},{"x":242.5,"y":0.27},{"x":245,"y":0.39},{"x":247.5,"y":0.285},
      {"x":250,"y":0.43},{"x":252.5,"y":0.29},{"x":255,"y":0.395},{"x":257.5,"y":0.28},{"x":260,"y":0.40},{"x":262.5,"y":0.27},{"x":265,"y":0.39},{"x":267.5,"y":0.285},{"x":270,"y":0.405},{"x":272.5,"y":0.29},
      {"x":275,"y":0.395},{"x":277.5,"y":0.28},{"x":280,"y":0.40},{"x":282.5,"y":0.265},{"x":285,"y":0.39},{"x":287.5,"y":0.285},{"x":290,"y":0.405},{"x":292.5,"y":0.29},{"x":295,"y":0.395},{"x":297.5,"y":0.28},
      {"x":300,"y":0.40},{"x":302.5,"y":0.285},{"x":305,"y":0.39},{"x":307.5,"y":0.275},{"x":310,"y":0.41},{"x":312.5,"y":0.29},{"x":315,"y":0.395},{"x":317.5,"y":0.28},{"x":320,"y":0.40},{"x":322.5,"y":0.27},
      {"x":325,"y":0.39},{"x":327.5,"y":0.285},{"x":330,"y":0.405},{"x":332.5,"y":0.29},{"x":335,"y":0.395},{"x":337.5,"y":0.28},{"x":340,"y":0.40},{"x":342.5,"y":0.285},{"x":345,"y":0.39},{"x":347.5,"y":0.275},
      {"x":350,"y":0.405},{"x":352.5,"y":0.29},{"x":355,"y":0.395},{"x":357.5,"y":0.28},{"x":360,"y":0.40},{"x":362.5,"y":0.27},{"x":365,"y":0.39},{"x":367.5,"y":0.285},{"x":370,"y":0.41},{"x":372.5,"y":0.29},
      {"x":375,"y":0.395},{"x":377.5,"y":0.28},{"x":380,"y":0.40},{"x":382.5,"y":0.285},{"x":385,"y":0.39},{"x":387.5,"y":0.275},{"x":390,"y":0.405},{"x":392.5,"y":0.29},{"x":395,"y":0.395},{"x":397.5,"y":0.28},
      {"x":400,"y":0.40},{"x":402.5,"y":0.265},{"x":405,"y":0.39},{"x":407.5,"y":0.285},{"x":410,"y":0.405},{"x":412.5,"y":0.255},{"x":415,"y":0.395},{"x":417.5,"y":0.28},{"x":420,"y":0.40},{"x":422.5,"y":0.285},
      {"x":425,"y":0.39},{"x":427.5,"y":0.27},{"x":430,"y":0.405},{"x":432.5,"y":0.28},{"x":435,"y":0.395},{"x":437.5,"y":0.285},{"x":440,"y":0.40},{"x":442.5,"y":0.275},{"x":445,"y":0.39},{"x":447.5,"y":0.28},
      {"x":450,"y":0.405},{"x":452.5,"y":0.27},{"x":455,"y":0.395},{"x":457.5,"y":0.285},{"x":460,"y":0.40},{"x":462.5,"y":0.28},{"x":465,"y":0.39},{"x":467.5,"y":0.275},{"x":470,"y":0.405},{"x":472.5,"y":0.26},
      {"x":475,"y":0.395},{"x":477.5,"y":0.28},{"x":480,"y":0.39},{"x":482.5,"y":0.265},{"x":485,"y":0.385},{"x":487.5,"y":0.28},{"x":490,"y":0.40},{"x":492.5,"y":0.275},{"x":495,"y":0.39},{"x":497.5,"y":0.28},
      {"x":500,"y":0.385}
    ]
  },
  "concat": [
    {
      "title": "Border", "width": 170, "height": 146,
      "layer": [
        {"data": {"name": "border"}, "mark": {"type": "line", "strokeWidth": 1.7},
         "encoding": {
           "x": {"field": "x", "type": "quantitative", "scale": {"domain": [0, 500], "nice": false}, "axis": {"values": [0, 100, 200, 300, 400, 500], "labelExpr": "datum.value / 100", "title": "×10⁵"}},
           "y": {"field": "y", "type": "quantitative", "scale": {"domain": [-0.75, -0.5], "nice": false, "zero": false}, "axis": {"values": [-0.75, -0.7, -0.65, -0.6, -0.55, -0.5], "labelExpr": "'' + datum.value", "title": null}},
           "color": {"datum": "KMBGD", "scale": {"domain": ["KMBGD", "AKMBGD"], "range": ["#0072BD", "#D95319"]},
             "legend": {"title": null, "orient": "none", "legendX": 63, "legendY": 7, "symbolType": "M0,0H9.5", "symbolSize": 64, "labelOffset": 39, "labelFontSize": 10, "labelColor": "#262626", "rowPadding": 5, "padding": 0,
               "encode": {"symbols": {"update": {"strokeDash": {"signal": "datum.value == 'AKMBGD' ? [7, 8.5] : [1, 0]"}, "strokeWidth": {"signal": "datum.value == 'AKMBGD' ? 2.5 : 1.2"}}}}}}
         }},
        {"data": {"values": [{"level": -0.633, "from": 0, "to": 500}]}, "mark": {"type": "rule", "strokeWidth": 2.5, "strokeDash": [8, 11]},
         "encoding": {
           "x": {"field": "from", "type": "quantitative", "axis": {"orient": "top", "values": [0, 100, 200, 300, 400, 500], "title": null}},
           "x2": {"field": "to"},
           "y": {"field": "level", "type": "quantitative", "axis": {"orient": "right", "values": [-0.75, -0.7, -0.65, -0.6, -0.55, -0.5], "title": null}},
           "color": {"datum": "AKMBGD"}
         }}
      ],
      "resolve": {"axis": {"x": "independent", "y": "independent"}}
    },
    {
      "title": "Island", "width": 170, "height": 146,
      "layer": [
        {"data": {"name": "island"}, "mark": {"type": "line", "strokeWidth": 1.7, "color": "#0072BD"},
         "encoding": {
           "x": {"field": "x", "type": "quantitative", "scale": {"domain": [0, 500], "nice": false}, "axis": {"values": [0, 100, 200, 300, 400, 500], "labelExpr": "datum.value / 100", "title": "×10⁵"}},
           "y": {"field": "y", "type": "quantitative", "scale": {"domain": [3.3, 3.7], "nice": false, "zero": false}, "axis": {"values": [3.3, 3.4, 3.5, 3.6, 3.7], "labelExpr": "'' + datum.value", "title": null}}
         }},
        {"data": {"values": [{"level": 3.397, "from": 0, "to": 500}]}, "mark": {"type": "rule", "strokeWidth": 2.5, "strokeDash": [8, 11], "color": "#D95319"},
         "encoding": {
           "x": {"field": "from", "type": "quantitative", "axis": {"orient": "top", "values": [0, 100, 200, 300, 400, 500], "title": null}},
           "x2": {"field": "to"},
           "y": {"field": "level", "type": "quantitative", "axis": {"orient": "right", "values": [3.3, 3.4, 3.5, 3.6, 3.7], "title": null}}
         }}
      ],
      "resolve": {"axis": {"x": "independent", "y": "independent"}}
    },
    {
      "title": "Landlock", "width": 170, "height": 146,
      "layer": [
        {"data": {"name": "landlock"}, "mark": {"type": "line", "strokeWidth": 1.7, "color": "#0072BD"},
         "encoding": {
           "x": {"field": "x", "type": "quantitative", "scale": {"domain": [0, 500], "nice": false}, "axis": {"values": [0, 100, 200, 300, 400, 500], "labelExpr": "datum.value / 100", "title": "×10⁵"}},
           "y": {"field": "y", "type": "quantitative", "scale": {"domain": [4.6, 5.1], "nice": false, "zero": false}, "axis": {"values": [4.6, 4.7, 4.8, 4.9, 5, 5.1], "labelExpr": "'' + datum.value", "title": null}}
         }},
        {"data": {"values": [{"level": 4.753, "from": 0, "to": 500}]}, "mark": {"type": "rule", "strokeWidth": 2.5, "strokeDash": [8, 11], "color": "#D95319"},
         "encoding": {
           "x": {"field": "from", "type": "quantitative", "axis": {"orient": "top", "values": [0, 100, 200, 300, 400, 500], "title": null}},
           "x2": {"field": "to"},
           "y": {"field": "level", "type": "quantitative", "axis": {"orient": "right", "values": [4.6, 4.7, 4.8, 4.9, 5, 5.1], "title": null}}
         }}
      ],
      "resolve": {"axis": {"x": "independent", "y": "independent"}}
    },
    {
      "title": "Legal", "width": 170, "height": 146,
      "layer": [
        {"data": {"name": "legal"}, "mark": {"type": "line", "strokeWidth": 1.7, "color": "#0072BD"},
         "encoding": {
           "x": {"field": "x", "type": "quantitative", "scale": {"domain": [0, 500], "nice": false}, "axis": {"values": [0, 100, 200, 300, 400, 500], "labelExpr": "datum.value / 100", "title": "×10⁵"}},
           "y": {"field": "y", "type": "quantitative", "scale": {"domain": [0, 0.25], "nice": false}, "axis": {"values": [0, 0.05, 0.1, 0.15, 0.2, 0.25], "labelExpr": "'' + datum.value", "title": null}}
         }},
        {"data": {"values": [{"level": 0.132, "from": 0, "to": 500}]}, "mark": {"type": "rule", "strokeWidth": 2.5, "strokeDash": [8, 11], "color": "#D95319"},
         "encoding": {
           "x": {"field": "from", "type": "quantitative", "axis": {"orient": "top", "values": [0, 100, 200, 300, 400, 500], "title": null}},
           "x2": {"field": "to"},
           "y": {"field": "level", "type": "quantitative", "axis": {"orient": "right", "values": [0, 0.05, 0.1, 0.15, 0.2, 0.25], "title": null}}
         }}
      ],
      "resolve": {"axis": {"x": "independent", "y": "independent"}}
    },
    {
      "title": "Language", "width": 170, "height": 146,
      "layer": [
        {"data": {"name": "language"}, "mark": {"type": "line", "strokeWidth": 1.7, "color": "#0072BD"},
         "encoding": {
           "x": {"field": "x", "type": "quantitative", "scale": {"domain": [0, 500], "nice": false}, "axis": {"values": [0, 100, 200, 300, 400, 500], "labelExpr": "datum.value / 100", "title": "×10⁵"}},
           "y": {"field": "y", "type": "quantitative", "scale": {"domain": [0.3, 0.55], "nice": false, "zero": false}, "axis": {"values": [0.3, 0.35, 0.4, 0.45, 0.5, 0.55], "labelExpr": "'' + datum.value", "title": null}}
         }},
        {"data": {"values": [{"level": 0.423, "from": 0, "to": 500}]}, "mark": {"type": "rule", "strokeWidth": 2.5, "strokeDash": [8, 11], "color": "#D95319"},
         "encoding": {
           "x": {"field": "from", "type": "quantitative", "axis": {"orient": "top", "values": [0, 100, 200, 300, 400, 500], "title": null}},
           "x2": {"field": "to"},
           "y": {"field": "level", "type": "quantitative", "axis": {"orient": "right", "values": [0.3, 0.35, 0.4, 0.45, 0.5, 0.55], "title": null}}
         }}
      ],
      "resolve": {"axis": {"x": "independent", "y": "independent"}}
    },
    {
      "title": "Colonial", "width": 170, "height": 146,
      "layer": [
        {"data": {"name": "colonial"}, "mark": {"type": "line", "strokeWidth": 1.2, "color": "#0072BD"},
         "encoding": {
           "x": {"field": "x", "type": "quantitative", "scale": {"domain": [0, 500], "nice": false}, "axis": {"values": [0, 100, 200, 300, 400, 500], "labelExpr": "datum.value / 100", "title": "×10⁵"}},
           "y": {"field": "y", "type": "quantitative", "scale": {"domain": [0.4, 0.55], "nice": false, "zero": false}, "axis": {"values": [0.4, 0.45, 0.5, 0.55], "labelExpr": "'' + datum.value", "title": null}}
         }},
        {"data": {"values": [{"level": 0.467, "from": 0, "to": 500}]}, "mark": {"type": "rule", "strokeWidth": 2.5, "strokeDash": [8, 11], "color": "#D95319"},
         "encoding": {
           "x": {"field": "from", "type": "quantitative", "axis": {"orient": "top", "values": [0, 100, 200, 300, 400, 500], "title": null}},
           "x2": {"field": "to"},
           "y": {"field": "level", "type": "quantitative", "axis": {"orient": "right", "values": [0.4, 0.45, 0.5, 0.55], "title": null}}
         }}
      ],
      "resolve": {"axis": {"x": "independent", "y": "independent"}}
    },
    {
      "title": "Currency", "width": 170, "height": 146,
      "layer": [
        {"data": {"name": "currency"}, "mark": {"type": "line", "strokeWidth": 1.4, "color": "#0072BD"},
         "encoding": {
           "x": {"field": "x", "type": "quantitative", "scale": {"domain": [0, 500], "nice": false}, "axis": {"values": [0, 100, 200, 300, 400, 500], "labelExpr": "datum.value / 100", "title": "×10⁵"}},
           "y": {"field": "y", "type": "quantitative", "scale": {"domain": [0.7, 0.95], "nice": false, "zero": false}, "axis": {"values": [0.7, 0.75, 0.8, 0.85, 0.9, 0.95], "labelExpr": "'' + datum.value", "title": null}}
         }},
        {"data": {"values": [{"level": 0.80, "from": 0, "to": 500}]}, "mark": {"type": "rule", "strokeWidth": 2.5, "strokeDash": [8, 11], "color": "#D95319"},
         "encoding": {
           "x": {"field": "from", "type": "quantitative", "axis": {"orient": "top", "values": [0, 100, 200, 300, 400, 500], "title": null}},
           "x2": {"field": "to"},
           "y": {"field": "level", "type": "quantitative", "axis": {"orient": "right", "values": [0.7, 0.75, 0.8, 0.85, 0.9, 0.95], "title": null}}
         }}
      ],
      "resolve": {"axis": {"x": "independent", "y": "independent"}}
    },
    {
      "title": "FTA", "width": 170, "height": 146,
      "layer": [
        {"data": {"name": "fta"}, "mark": {"type": "line", "strokeWidth": 1.2, "color": "#0072BD"},
         "encoding": {
           "x": {"field": "x", "type": "quantitative", "scale": {"domain": [0, 500], "nice": false}, "axis": {"values": [0, 100, 200, 300, 400, 500], "labelExpr": "datum.value / 100", "title": "×10⁵"}},
           "y": {"field": "y", "type": "quantitative", "scale": {"domain": [2.85, 3.05], "nice": false, "zero": false}, "axis": {"values": [2.85, 2.9, 2.95, 3, 3.05], "labelExpr": "'' + datum.value", "title": null}}
         }},
        {"data": {"values": [{"level": 2.929, "from": 0, "to": 500}]}, "mark": {"type": "rule", "strokeWidth": 2.5, "strokeDash": [8, 11], "color": "#D95319"},
         "encoding": {
           "x": {"field": "from", "type": "quantitative", "axis": {"orient": "top", "values": [0, 100, 200, 300, 400, 500], "title": null}},
           "x2": {"field": "to"},
           "y": {"field": "level", "type": "quantitative", "axis": {"orient": "right", "values": [2.85, 2.9, 2.95, 3, 3.05], "title": null}}
         }}
      ],
      "resolve": {"axis": {"x": "independent", "y": "independent"}}
    },
    {
      "title": "Religion", "width": 170, "height": 146,
      "layer": [
        {"data": {"name": "religion"}, "mark": {"type": "line", "strokeWidth": 1.7, "color": "#0072BD"},
         "encoding": {
           "x": {"field": "x", "type": "quantitative", "scale": {"domain": [0, 500], "nice": false}, "axis": {"values": [0, 100, 200, 300, 400, 500], "labelExpr": "datum.value / 100", "title": "×10⁵"}},
           "y": {"field": "y", "type": "quantitative", "scale": {"domain": [0.246, 0.45], "nice": false, "zero": false}, "axis": {"values": [0.25, 0.3, 0.35, 0.4, 0.45], "labelExpr": "'' + datum.value", "title": null}}
         }},
        {"data": {"values": [{"level": 0.334, "from": 0, "to": 500}]}, "mark": {"type": "rule", "strokeWidth": 2.5, "strokeDash": [8, 11], "color": "#D95319"},
         "encoding": {
           "x": {"field": "from", "type": "quantitative", "axis": {"orient": "top", "values": [0, 100, 200, 300, 400, 500], "title": null}},
           "x2": {"field": "to"},
           "y": {"field": "level", "type": "quantitative", "axis": {"orient": "right", "values": [0.25, 0.3, 0.35, 0.4, 0.45], "title": null}}
         }}
      ],
      "resolve": {"axis": {"x": "independent", "y": "independent"}}
    }
  ],
  "config": {
    "font": "Liberation Sans",
    "view": {"stroke": "#262626", "strokeWidth": 0.8},
    "axis": {"grid": false, "domain": false, "tickSize": -3, "tickColor": "#262626", "tickWidth": 0.8, "labelFontSize": 10.5, "labelColor": "#262626", "labelPadding": 4, "titleFontSize": 10.5, "titleFontWeight": "normal", "titleColor": "#262626"},
    "axisBottom": {"labelPadding": 10, "titleX": 172, "titleY": 38, "titleAlign": "right", "titleBaseline": "alphabetic", "titleAnchor": "end"},
    "axisTop": {"labels": false},
    "axisRight": {"labels": false},
    "title": {"fontSize": 12.5, "fontWeight": "bold", "color": "#000000", "offset": -1, "baseline": "alphabetic"}
  }
}
